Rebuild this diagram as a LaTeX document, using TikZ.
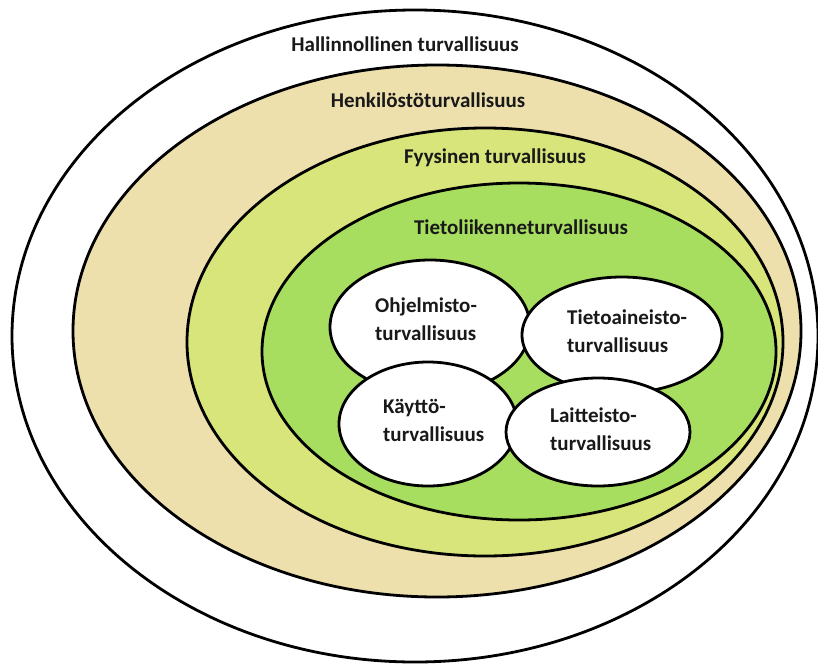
\documentclass[tikz,border=0pt]{standalone}
\usepackage{fontspec}
\setmainfont{Carlito}
\usetikzlibrary{shapes.geometric}
\definecolor{tanband}{HTML}{EDE0AD}
\definecolor{lightband}{HTML}{D7E57B}
\definecolor{greenband}{HTML}{A8DE60}
\tikzset{
  ring/.style={ellipse, draw=black, line width=2.8pt, inner sep=0pt},
  inner/.style={ellipse, draw=black, line width=2.8pt, fill=white, inner sep=0pt},
  lbl/.style={font=\fontsize{21}{28}\selectfont\bfseries, inner sep=0pt, align=left, text=black!90}
}
\begin{document}
\begin{tikzpicture}[x=1pt,y=-1pt]
  \useasboundingbox (0,0) rectangle (818,664);
  \fill[white] (0,0) rectangle (818,664);

  % nested security layers
  \node[ring, fill=white, minimum width=806pt, minimum height=652pt] (hallinto) at (415,336) {};
  \node[ring, fill=tanband, minimum width=728pt, minimum height=532pt] (henkilo) at (437,331) {};
  \node[ring, fill=lightband, minimum width=596pt, minimum height=428pt] (fyysinen) at (485,342) {};
  \node[ring, fill=greenband, minimum width=514pt, minimum height=337pt] (tietoliikenne) at (519,351.5) {};

  % inner areas
  \node[inner, minimum width=200pt, minimum height=134pt] (ohjelmisto) at (430,327) {};
  \node[inner, minimum width=200pt, minimum height=116pt] (tietoaineisto) at (622,335) {};
  \node[inner, minimum width=178pt, minimum height=124pt] (kaytto) at (428,424) {};
  \node[inner, minimum width=184pt, minimum height=108pt] (laitteisto) at (598,432) {};

  % layer labels
  \node[lbl] (t1) at (405,44) {Hallinnollinen turvallisuus};
  \node[lbl] (t2) at (428,100) {Henkilöstöturvallisuus};
  \node[lbl] (t3) at (495,158) {Fyysinen turvallisuus};
  \node[lbl] (t4) at (521,227) {Tietoliikenneturvallisuus};

  % inner labels
  \node[lbl, anchor=west] (t5) at (375,319) {Ohjelmisto-\\turvallisuus};
  \node[lbl, anchor=west] (t6) at (567,331) {Tietoaineisto-\\turvallisuus};
  \node[lbl, anchor=west] (t7) at (383,420) {Käyttö-\\turvallisuus};
  \node[lbl, anchor=west] (t8) at (550,429) {Laitteisto-\\turvallisuus};
\end{tikzpicture}
\end{document}
